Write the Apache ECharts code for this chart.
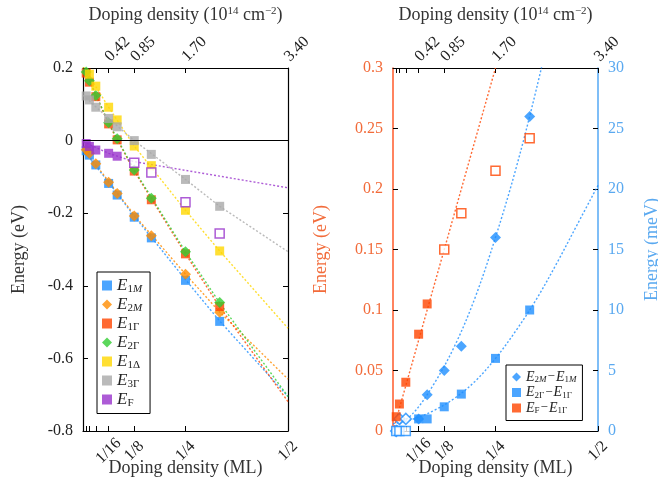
<!DOCTYPE html>
<html>
<head>
<meta charset="utf-8">
<script src="https://cdn.jsdelivr.net/npm/echarts@6/dist/echarts.min.js"></script>
<style>
  html, body { margin: 0; padding: 0; background: #fff; }
  #chart-wrapper { width: 658px; height: 483px; }
</style>
</head>
<body>
<div id="chart-wrapper"></div>
<script>
const serif = "'Liberation Serif', 'DejaVu Serif', serif";

// doping density (ML) of the computed points
const mlX = [1 / 128, 1 / 64, 1 / 32, 1 / 16, 1 / 12, 1 / 8, 1 / 6, 1 / 4, 1 / 3];

// left panel: band energies (eV)
const e1M = [-0.028, -0.040, -0.067, -0.118, -0.150, -0.211, -0.268, -0.385, -0.498];
const e2M = [-0.025, -0.035, -0.064, -0.115, -0.146, -0.208, -0.262, -0.368, -0.473];
const e1G = [0.186, 0.161, 0.121, 0.046, 0.002, -0.084, -0.163, -0.312, -0.457];
const e2G = [0.189, 0.165, 0.124, 0.049, 0.005, -0.081, -0.159, -0.306, -0.446];
const e1D = [0.202, 0.183, 0.150, 0.092, 0.057, -0.015, -0.069, -0.192, -0.304];
const e3G = [0.123, 0.112, 0.092, 0.061, 0.038, 0.000, -0.038, -0.107, -0.181];
const eF = [-0.008, -0.016, -0.026, -0.035, -0.043, null, null, null, null];
const eFOpen = [null, null, null, null, null, -0.061, -0.088, -0.170, -0.256];

// left panel: dotted fit lines
const fitX = [0, 1 / 16, 1 / 8, 1 / 4, 1 / 3, 1 / 2];
const fit1M = [-0.025, -0.115, -0.208, -0.383, -0.497, -0.705];
const fit2M = [-0.022, -0.112, -0.205, -0.368, -0.472, -0.657];
const fit1G = [0.205, 0.046, -0.084, -0.312, -0.458, -0.719];
const fit2G = [0.205, 0.049, -0.081, -0.306, -0.447, -0.705];
const fit1D = [0.205, 0.092, -0.015, -0.192, -0.304, -0.517];
const fit3G = [0.125, 0.061, 0.000, -0.107, -0.181, -0.306];
const fitF = [-0.003, -0.035, -0.058, -0.082, -0.098, -0.130];

// right panel: gaps. E_F - E_1G in eV, the others in meV
const gapF = [0.0118, 0.0223, 0.0403, 0.080, 0.105, null, null, null, null];
const gapFOpen = [null, null, null, null, null, 0.150, 0.180, 0.215, 0.242];
const gap2M = [null, null, null, 1.0, 3.0, 5.0, 7.0, 16.0, 26.0];
const gap2MOpen = [0.0, 1.0, 1.0, null, null, null, null, null, null];
const gap2G = [null, null, null, 1.0, 1.0, 2.0, 3.05, 6.0, 10.0];
const gap2GOpen = [0.0, 0.0, 0.0, null, null, null, null, null, null];

// right panel: dotted fit curves
const gapFFitX = [0, 0.25];
const gapFFit = [0, 0.3];
const curveX = [0, 0.05, 0.1, 0.15, 0.2, 0.25, 0.3, 0.35, 0.4, 0.45, 0.5];
const gap2MFit = [0.2, 1.5, 3.9, 7.0, 11.0, 16.0, 21.7, 28.3, 35.7, null, null];
const gap2GFit = [0.6, 1.0, 1.7, 2.7, 4.1, 6.0, 8.3, 10.9, 13.9, 17.1, 20.3];

// axis ticks and labels
const tickPos = [1 / 128, 1 / 64, 1 / 32, 1 / 16, 1 / 8, 1 / 4, 1 / 2];
const labelPos = [1 / 16, 1 / 8, 1 / 4, 1 / 2];
const mlLabels = ['1/16', '1/8', '1/4', '1/2'];
const cmLabels = ['0.42', '0.85', '1.70', '3.40'];

const colors = {
  e1M: '#1e8fff', e2M: '#ff8c00', e1G: '#ff4500', e2G: '#32cd32',
  e1D: '#ffd700', e3G: '#a9a9a9', eF: '#9932cc'
};
const redAxis = '#ff5a2a';
const blueAxis = '#55a8f5';

const pairs = (xs, ys) => xs.map((x, i) => [x, ys[i]]).filter((p) => p[1] !== null);

const lookup = (pos, texts) => (v) => {
  const i = pos.findIndex((p) => Math.abs(p - v) < 1e-9);
  return i >= 0 ? texts[i] : '';
};

const subRich = {
  e: { fontFamily: serif, fontStyle: 'italic', fontSize: 17, lineHeight: 18, color: '#222' },
  s: { fontFamily: serif, fontSize: 11, lineHeight: 9, verticalAlign: 'bottom', color: '#222' },
  si: { fontFamily: serif, fontStyle: 'italic', fontSize: 11, lineHeight: 9, verticalAlign: 'bottom', color: '#222' },
  e2: { fontFamily: serif, fontStyle: 'italic', fontSize: 14, lineHeight: 15, color: '#222' },
  s2: { fontFamily: serif, fontSize: 9, lineHeight: 7, verticalAlign: 'bottom', color: '#222' },
  si2: { fontFamily: serif, fontStyle: 'italic', fontSize: 9, lineHeight: 7, verticalAlign: 'bottom', color: '#222' },
  m: { fontFamily: serif, fontSize: 13, lineHeight: 15, color: '#222', padding: [0, 1, 0, 1] }
};
const legendText = {
  'E1M': '{e|E}{s|1}{si|M}',
  'E2M': '{e|E}{s|2}{si|M}',
  'E1Γ': '{e|E}{s|1Γ}',
  'E2Γ': '{e|E}{s|2Γ}',
  'E1Δ': '{e|E}{s|1Δ}',
  'E3Γ': '{e|E}{s|3Γ}',
  'EF': '{e|E}{s|F}',
  'E2M-E1M': '{e2|E}{s2|2}{si2|M}{m|−}{e2|E}{s2|1}{si2|M}',
  'E2Γ-E1Γ': '{e2|E}{s2|2Γ}{m|−}{e2|E}{s2|1Γ}',
  'EF-E1Γ': '{e2|E}{s2|F}{m|−}{e2|E}{s2|1Γ}'
};

const labelFont = { fontFamily: serif, fontSize: 16, color: '#222' };
const nameFont = {
  fontFamily: serif, fontSize: 18, color: '#333',
  rich: { sup: { fontFamily: serif, fontSize: 11, lineHeight: 10, verticalAlign: 'top', color: '#333' } }
};

function xAxes(grid) {
  return [
    {
      gridIndex: grid, type: 'value', position: 'bottom', min: 0, max: 0.5,
      axisLine: { onZero: false, lineStyle: { color: '#000', width: 1.2 } },
      axisTick: { inside: true, length: 5, customValues: tickPos, lineStyle: { color: '#000' } },
      axisLabel: Object.assign({
        customValues: labelPos, formatter: lookup(labelPos, mlLabels),
        rotate: 45, margin: 20, align: 'center', verticalAlign: 'middle'
      }, labelFont),
      splitLine: { show: false },
      name: 'Doping density (ML)', nameLocation: 'middle', nameGap: 28, nameMoveOverlap: false,
      nameTextStyle: nameFont
    },
    {
      gridIndex: grid, type: 'value', position: 'top', min: 0, max: 0.5,
      axisLine: { onZero: false, lineStyle: { color: '#000', width: 1.2 } },
      axisTick: { inside: true, length: 5, customValues: tickPos, lineStyle: { color: '#000' } },
      axisLabel: Object.assign({
        customValues: labelPos, formatter: lookup(labelPos, cmLabels),
        rotate: -45, margin: 10, align: 'center', verticalAlign: 'middle', padding: [0, 0, 0, 25]
      }, labelFont),
      splitLine: { show: false },
      name: 'Doping density (10{sup|14} cm{sup|−2})', nameLocation: 'middle', nameGap: 44, nameMoveOverlap: false,
      nameTextStyle: nameFont
    }
  ];
}

const chartDom = document.getElementById('chart-wrapper');
const chart = echarts.init(chartDom, null, { renderer: 'canvas' });

function fitLine(name, xs, ys, color, xi, yi, smooth) {
  return {
    name: name, type: 'line', xAxisIndex: xi, yAxisIndex: yi,
    data: pairs(xs, ys), showSymbol: false, symbol: 'none', smooth: smooth || false,
    lineStyle: { color: color, width: 1.4, type: [2, 2], opacity: 0.8 },
    silent: true, z: 1
  };
}
function dots(name, xs, ys, color, symbol, xi, yi, open) {
  return {
    name: name, type: 'scatter', xAxisIndex: xi, yAxisIndex: yi,
    data: pairs(xs, ys), symbol: symbol, symbolSize: symbol === 'diamond' ? 11 : 9,
    itemStyle: open
      ? { color: '#fff', borderColor: color, borderWidth: 1.5 }
      : { color: color },
    z: 3
  };
}

const series = [
  fitLine('f1M', fitX, fit1M, colors.e1M, 0, 0),
  fitLine('f2M', fitX, fit2M, colors.e2M, 0, 0),
  fitLine('f1G', fitX, fit1G, colors.e1G, 0, 0),
  fitLine('f2G', fitX, fit2G, colors.e2G, 0, 0),
  fitLine('f1D', fitX, fit1D, colors.e1D, 0, 0),
  fitLine('f3G', fitX, fit3G, colors.e3G, 0, 0),
  fitLine('fF', fitX, fitF, colors.eF, 0, 0),
  dots('E1M', mlX, e1M, colors.e1M, 'rect', 0, 0),
  dots('E2M', mlX, e2M, colors.e2M, 'diamond', 0, 0),
  dots('E1Γ', mlX, e1G, colors.e1G, 'rect', 0, 0),
  dots('E2Γ', mlX, e2G, colors.e2G, 'diamond', 0, 0),
  dots('E1Δ', mlX, e1D, colors.e1D, 'rect', 0, 0),
  dots('E3Γ', mlX, e3G, colors.e3G, 'rect', 0, 0),
  dots('EF', mlX, eF, colors.eF, 'rect', 0, 0),
  dots('EF open', mlX, eFOpen, colors.eF, 'rect', 0, 0, true),
  // right panel
  fitLine('gF fit', gapFFitX, gapFFit, colors.e1G, 2, 2),
  fitLine('g2M fit', curveX, gap2MFit, colors.e1M, 2, 3, 0.35),
  fitLine('g2G fit', curveX, gap2GFit, colors.e1M, 2, 3, 0.35),
  dots('E2M-E1M', mlX, gap2M, colors.e1M, 'diamond', 2, 3),
  dots('g2M open', mlX, gap2MOpen, colors.e1M, 'diamond', 2, 3, true),
  dots('E2Γ-E1Γ', mlX, gap2G, colors.e1M, 'rect', 2, 3),
  dots('g2G open', mlX, gap2GOpen, colors.e1M, 'rect', 2, 3, true),
  dots('EF-E1Γ', mlX, gapF, colors.e1G, 'rect', 2, 2),
  dots('gF open', mlX, gapFOpen, colors.e1G, 'rect', 2, 2, true)
];

// zero line of the left panel
series[0].markLine = {
  silent: true, symbol: 'none', label: { show: false },
  lineStyle: { color: '#000', type: 'solid', width: 1.2 },
  data: [{ yAxis: 0 }]
};

const option = {
  animation: false,
  backgroundColor: '#fff',
  grid: [
    { left: 83, top: 68, width: 205, height: 363, outerBoundsMode: 'none', containLabel: false },
    { left: 393, top: 68, width: 205, height: 363, outerBoundsMode: 'none', containLabel: false }
  ],
  xAxis: xAxes(0).concat(xAxes(1)),
  yAxis: [
    {
      gridIndex: 0, type: 'value', position: 'left', min: -0.8, max: 0.2, interval: 0.2,
      axisLine: { show: true, onZero: false, lineStyle: { color: '#000', width: 1.2 } },
      axisTick: { show: true, inside: true, length: 5, lineStyle: { color: '#000' } },
      axisLabel: Object.assign({ margin: 10 }, labelFont),
      splitLine: { show: false },
      name: 'Energy (eV)', nameLocation: 'middle', nameGap: 55, nameMoveOverlap: false,
      nameTextStyle: nameFont
    },
    {
      gridIndex: 0, type: 'value', position: 'right', min: -0.8, max: 0.2, interval: 0.2,
      axisLine: { show: true, onZero: false, lineStyle: { color: '#000', width: 1.2 } },
      axisTick: { show: true, inside: true, length: 5, lineStyle: { color: '#000' } },
      axisLabel: { show: false },
      splitLine: { show: false }
    },
    {
      gridIndex: 1, type: 'value', position: 'left', min: 0, max: 0.3, interval: 0.05,
      axisLine: { show: true, onZero: false, lineStyle: { color: redAxis, width: 1.5 } },
      axisTick: { show: true, inside: true, length: 5, lineStyle: { color: '#000' } },
      axisLabel: Object.assign({}, labelFont, { margin: 10, color: '#f26b3a' }),
      splitLine: { show: false },
      name: 'Energy (eV)', nameLocation: 'middle', nameGap: 63, nameMoveOverlap: false,
      nameTextStyle: Object.assign({}, nameFont, { color: '#f26b3a' })
    },
    {
      gridIndex: 1, type: 'value', position: 'right', min: 0, max: 30, interval: 5,
      axisLine: { show: true, onZero: false, lineStyle: { color: blueAxis, width: 1.5 } },
      axisTick: { show: true, inside: true, length: 5, lineStyle: { color: '#000' } },
      axisLabel: Object.assign({}, labelFont, { margin: 10, color: '#5aa9f0' }),
      splitLine: { show: false },
      name: 'Energy (meV)', nameLocation: 'middle', nameGap: 45, nameMoveOverlap: false,
      nameTextStyle: Object.assign({}, nameFont, { color: '#5aa9f0' })
    }
  ],
  legend: [
    {
      left: 97, top: 272, orient: 'vertical', itemWidth: 10, itemHeight: 10, itemGap: 1.5,
      padding: [5, 8, 5, 5], borderColor: '#000', borderWidth: 1, backgroundColor: '#fff',
      selectedMode: false,
      data: [
        { name: 'E1M', icon: 'rect' }, { name: 'E2M', icon: 'diamond' },
        { name: 'E1Γ', icon: 'rect' }, { name: 'E2Γ', icon: 'diamond' },
        { name: 'E1Δ', icon: 'rect' }, { name: 'E3Γ', icon: 'rect' },
        { name: 'EF', icon: 'rect' }
      ],
      formatter: (n) => legendText[n],
      textStyle: { rich: subRich }
    },
    {
      left: 506, top: 365, orient: 'vertical', itemWidth: 9, itemHeight: 9, itemGap: 1,
      padding: [5, 6, 5, 6], borderColor: '#000', borderWidth: 1, backgroundColor: '#fff',
      selectedMode: false,
      data: [
        { name: 'E2M-E1M', icon: 'diamond' },
        { name: 'E2Γ-E1Γ', icon: 'rect' },
        { name: 'EF-E1Γ', icon: 'rect' }
      ],
      formatter: (n) => legendText[n],
      textStyle: { rich: subRich }
    }
  ],
  series: series
};

chart.setOption(option);
</script>
</body>
</html>
